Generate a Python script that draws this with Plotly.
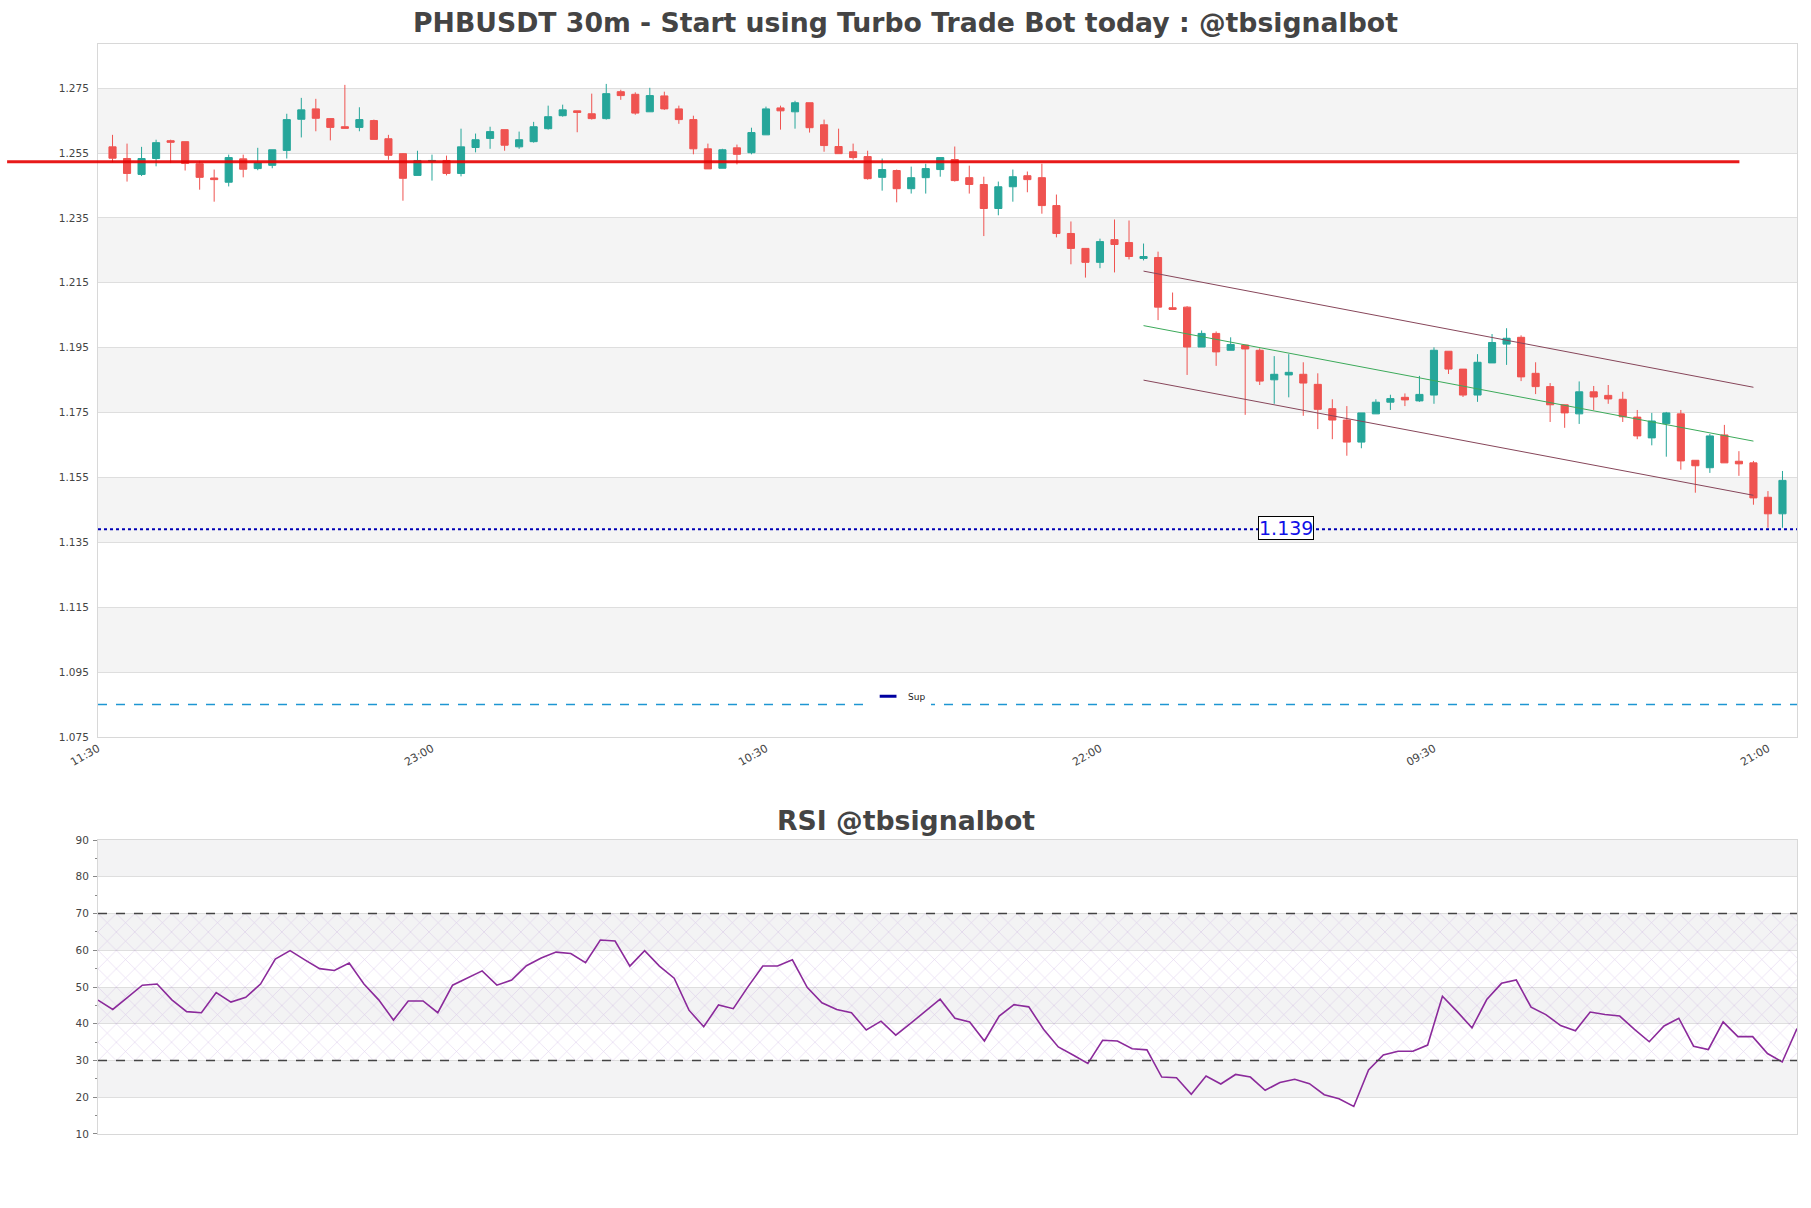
import pandas as pd
import plotly.graph_objects as go

# ---------------- data ----------------
TITLE = "PHBUSDT 30m - Start using Turbo Trade Bot today : @tbsignalbot"
RSI_TITLE = "RSI @tbsignalbot"
START = "2024-01-01 12:00"
AXIS_START = "2024-01-01 11:30"
AXIS_END = "2024-01-03 22:00"

opens = [1.2569, 1.2533, 1.2484, 1.2533, 1.2588, 1.2585, 1.2517, 1.2473, 1.2460, 1.2532,
         1.2502, 1.2512, 1.2558, 1.2654, 1.2686, 1.2656, 1.2631, 1.2629, 1.2650, 1.2594,
         1.2548, 1.2481, 1.2525, 1.2527, 1.2487, 1.2567, 1.2595, 1.2622, 1.2569, 1.2585,
         1.2625, 1.2665, 1.2680, 1.2671, 1.2656, 1.2739, 1.2731, 1.2677, 1.2726, 1.2686,
         1.2653, 1.2563, 1.2503, 1.2566, 1.2551, 1.2606, 1.2689, 1.2677, 1.2705, 1.2637,
         1.2570, 1.2554, 1.2539, 1.2475, 1.2496, 1.2440, 1.2474, 1.2499, 1.2530, 1.2474,
         1.2453, 1.2379, 1.2446, 1.2480, 1.2474, 1.2388, 1.2302, 1.2256, 1.2213, 1.2283,
         1.2274, 1.2225, 1.2228, 1.2073, 1.2075, 1.1952, 1.1994, 1.1942, 1.1958, 1.1942,
         1.1851, 1.1866, 1.1868, 1.1837, 1.1762, 1.1727, 1.1659, 1.1746, 1.1782, 1.1797,
         1.1786, 1.1804, 1.1939, 1.1884, 1.1804, 1.1903, 1.1961, 1.1982, 1.1871, 1.1830,
         1.1774, 1.1746, 1.1814, 1.1803, 1.1791, 1.1736, 1.1672, 1.1716, 1.1746, 1.1603,
         1.1580, 1.1681, 1.1600, 1.1595, 1.1489, 1.1438]
highs = [1.2606, 1.2579, 1.2569, 1.2591, 1.2591, 1.2585, 1.2526, 1.2499, 1.2545, 1.2545,
         1.2566, 1.2560, 1.2671, 1.2720, 1.2717, 1.2656, 1.2760, 1.2691, 1.2653, 1.2606,
         1.2550, 1.2557, 1.2545, 1.2542, 1.2625, 1.2610, 1.2631, 1.2622, 1.2616, 1.2646,
         1.2696, 1.2699, 1.2680, 1.2733, 1.2763, 1.2745, 1.2737, 1.2751, 1.2739, 1.2696,
         1.2665, 1.2579, 1.2563, 1.2576, 1.2628, 1.2693, 1.2696, 1.2711, 1.2705, 1.2653,
         1.2625, 1.2579, 1.2557, 1.2533, 1.2499, 1.2508, 1.2517, 1.2536, 1.2570, 1.2511,
         1.2477, 1.2462, 1.2499, 1.2493, 1.2517, 1.2422, 1.2339, 1.2256, 1.2286, 1.2345,
         1.2342, 1.2271, 1.2246, 1.2120, 1.2078, 1.2003, 1.2000, 1.1982, 1.1958, 1.1948,
         1.1924, 1.1930, 1.1905, 1.1871, 1.1791, 1.1770, 1.1749, 1.1791, 1.1805, 1.1809,
         1.1863, 1.1951, 1.1939, 1.1884, 1.1930, 1.1992, 1.2010, 1.1988, 1.1905, 1.1841,
         1.1774, 1.1846, 1.1832, 1.1835, 1.1814, 1.1758, 1.1749, 1.1752, 1.1758, 1.1603,
         1.1684, 1.1712, 1.1631, 1.1601, 1.1508, 1.1570]
lows = [1.2521, 1.2462, 1.2479, 1.2509, 1.2519, 1.2496, 1.2437, 1.2400, 1.2447, 1.2475,
        1.2497, 1.2503, 1.2533, 1.2598, 1.2617, 1.2589, 1.2626, 1.2617, 1.2592, 1.2529,
        1.2403, 1.2481, 1.2465, 1.2481, 1.2478, 1.2552, 1.2563, 1.2557, 1.2563, 1.2582,
        1.2622, 1.2662, 1.2614, 1.2653, 1.2653, 1.2714, 1.2668, 1.2677, 1.2683, 1.2640,
        1.2546, 1.2501, 1.2503, 1.2515, 1.2546, 1.2606, 1.2622, 1.2625, 1.2613, 1.2554,
        1.2548, 1.2530, 1.2468, 1.2434, 1.2398, 1.2425, 1.2425, 1.2477, 1.2462, 1.2425,
        1.2294, 1.2358, 1.2400, 1.2429, 1.2363, 1.2290, 1.2207, 1.2166, 1.2195, 1.2182,
        1.2222, 1.2219, 1.2035, 1.2068, 1.1866, 1.1952, 1.1894, 1.1942, 1.1743, 1.1835,
        1.1777, 1.1797, 1.1740, 1.1699, 1.1668, 1.1617, 1.1640, 1.1746, 1.1758, 1.1770,
        1.1783, 1.1777, 1.1869, 1.1798, 1.1783, 1.1903, 1.1897, 1.1847, 1.1807, 1.1721,
        1.1703, 1.1715, 1.1758, 1.1777, 1.1721, 1.1668, 1.1649, 1.1614, 1.1574, 1.1503,
        1.1564, 1.1595, 1.1555, 1.1466, 1.1395, 1.1395]
closes = [1.2534, 1.2487, 1.2533, 1.2582, 1.2583, 1.2518, 1.2475, 1.2468, 1.2536, 1.2500,
          1.2520, 1.2560, 1.2653, 1.2683, 1.2657, 1.2629, 1.2626, 1.2653, 1.2592, 1.2543,
          1.2472, 1.2527, 1.2527, 1.2487, 1.2569, 1.2591, 1.2616, 1.2574, 1.2591, 1.2631,
          1.2662, 1.2683, 1.2675, 1.2656, 1.2733, 1.2727, 1.2673, 1.2727, 1.2686, 1.2653,
          1.2563, 1.2501, 1.2560, 1.2546, 1.2613, 1.2686, 1.2680, 1.2705, 1.2628, 1.2573,
          1.2548, 1.2536, 1.2471, 1.2499, 1.2440, 1.2474, 1.2502, 1.2536, 1.2465, 1.2453,
          1.2379, 1.2446, 1.2477, 1.2468, 1.2388, 1.2302, 1.2256, 1.2213, 1.2277, 1.2268,
          1.2231, 1.2231, 1.2075, 1.2068, 1.1952, 1.1994, 1.1937, 1.1960, 1.1946, 1.1847,
          1.1868, 1.1874, 1.1841, 1.1760, 1.1727, 1.1659, 1.1749, 1.1782, 1.1793, 1.1789,
          1.1806, 1.1942, 1.1884, 1.1804, 1.1905, 1.1966, 1.1979, 1.1860, 1.1830, 1.1774,
          1.1749, 1.1814, 1.1798, 1.1792, 1.1737, 1.1678, 1.1724, 1.1749, 1.1601, 1.1586,
          1.1678, 1.1595, 1.1592, 1.1487, 1.1438, 1.1541]

rsi = [46.45, 43.9, 47.2, 50.5, 50.8, 46.5, 43.3, 43.0, 48.5, 45.9,
       47.2, 50.8, 57.6, 59.9, 57.4, 55.0, 54.5, 56.5, 50.8, 46.5,
       41.0, 46.2, 46.2, 43.0, 50.5, 52.4, 54.4, 50.5, 51.9, 55.8,
       57.9, 59.5, 59.1, 56.6, 62.8, 62.5, 55.7, 59.9, 55.7, 52.4,
       43.7, 39.2, 45.1, 44.1, 50.1, 55.7, 55.7, 57.4, 49.9, 45.7,
       43.9, 43.0, 38.3, 40.7, 36.9, 40.1, 43.3, 46.7, 41.5, 40.5,
       35.3, 42.1, 45.2, 44.6, 38.5, 33.7, 31.5, 29.2, 35.5, 35.3,
       33.2, 32.9, 25.5, 25.3, 20.8, 25.8, 23.6, 26.2, 25.5, 21.9,
       24.0, 24.9, 23.7, 20.7, 19.6, 17.5, 27.4, 31.5, 32.5, 32.5,
       34.2, 47.5, 43.3, 38.9, 46.6, 51.0, 51.9, 44.5, 42.5, 39.5,
       38.1, 43.2, 42.5, 42.1, 38.5, 35.1, 39.4, 41.5, 33.9, 33.0,
       40.5, 36.5, 36.5, 31.9, 29.6, 38.7]

x_tick_vals = ["2024-01-01 11:30", "2024-01-01 23:00", "2024-01-02 10:30",
               "2024-01-02 22:00", "2024-01-03 09:30", "2024-01-03 21:00"]
x_tick_text = ["11:30", "23:00", "10:30", "22:00", "09:30", "21:00"]

# channel (start candle index, end candle index, values)
channel_idx = [71, 113]
channel_upper = [1.2186, 1.1828]
channel_mid = [1.2018, 1.1662]
channel_lower = [1.1850, 1.1495]

resistance_level = 1.2523
support_label_level = 1.139
sup_level = 1.085

y_range = [1.075, 1.2886]
main_gray_bands = [(1.255, 1.275), (1.215, 1.235), (1.175, 1.195), (1.135, 1.155), (1.095, 1.115)]
rsi_gray_bands = [(80, 90), (60, 70), (40, 50), (20, 30)]
RSI_LOW, RSI_HIGH = 30, 70

# ---------------- figure ----------------
times = pd.date_range(START, periods=len(opens), freq="30min")
FONT = "DejaVu Sans"
GREEN, RED = "#26a69a", "#ef5350"

fig = go.Figure()

fig.add_trace(go.Candlestick(
    x=times, open=opens, high=highs, low=lows, close=closes,
    increasing=dict(line=dict(color=GREEN, width=1), fillcolor=GREEN),
    decreasing=dict(line=dict(color=RED, width=1), fillcolor=RED),
    whiskerwidth=0, showlegend=False, xaxis="x", yaxis="y"))

ch_x = [times[i] for i in channel_idx]
fig.add_trace(go.Scatter(x=ch_x, y=channel_upper, mode="lines",
                         line=dict(color="rgb(135,70,90)", width=1), showlegend=False))
fig.add_trace(go.Scatter(x=ch_x, y=channel_mid, mode="lines",
                         line=dict(color="rgb(60,170,90)", width=1), showlegend=False))
fig.add_trace(go.Scatter(x=ch_x, y=channel_lower, mode="lines",
                         line=dict(color="rgb(135,70,90)", width=1), showlegend=False))

# legend entry "Sup"
fig.add_trace(go.Scatter(x=[None], y=[None], mode="markers", name="Sup",
                         marker=dict(symbol="line-ew", size=12, color="#0000a0",
                                     line=dict(width=3, color="#0000a0")),
                         showlegend=True))

# RSI hatched zone
fig.add_trace(go.Scatter(x=[times[0], times[-1]], y=[RSI_LOW, RSI_LOW], mode="lines",
                         line=dict(width=0, color="rgba(0,0,0,0)"), showlegend=False,
                         xaxis="x2", yaxis="y2", hoverinfo="skip"))
fig.add_trace(go.Scatter(x=[times[0], times[-1]], y=[RSI_HIGH, RSI_HIGH], mode="lines",
                         line=dict(width=0, color="rgba(0,0,0,0)"), fill="tonexty",
                         fillcolor="rgba(0,0,0,0)",
                         fillpattern=dict(shape="x", fgcolor="rgba(170,125,210,0.75)",
                                          bgcolor="rgba(0,0,0,0)", size=13, solidity=0.08),
                         showlegend=False, xaxis="x2", yaxis="y2", hoverinfo="skip"))

fig.add_trace(go.Scatter(x=times, y=rsi, mode="lines",
                         line=dict(color="#8b2a9b", width=1.6), showlegend=False,
                         xaxis="x2", yaxis="y2"))

shapes = []
for lo, hi in main_gray_bands:
    shapes.append(dict(type="rect", xref="x domain", yref="y", x0=0, x1=1, y0=lo, y1=hi,
                       fillcolor="#f4f4f4", line=dict(width=0), layer="below"))
for lo, hi in rsi_gray_bands:
    shapes.append(dict(type="rect", xref="x2 domain", yref="y2", x0=0, x1=1, y0=lo, y1=hi,
                       fillcolor="#f3f3f4", line=dict(width=0), layer="below"))

shapes.append(dict(type="line", xref="paper", yref="y", x0=-0.0535, x1=0.9661,
                   y0=resistance_level, y1=resistance_level,
                   line=dict(color="rgba(230,0,0,0.9)", width=3)))
shapes.append(dict(type="line", xref="x domain", yref="y", x0=0, x1=1,
                   y0=support_label_level, y1=support_label_level,
                   line=dict(color="#0000b4", width=2, dash="dot")))
shapes.append(dict(type="line", xref="x domain", yref="y", x0=0, x1=1,
                   y0=sup_level, y1=sup_level,
                   line=dict(color="rgb(30,150,210)", width=1.5, dash="dash")))
for lvl in (RSI_LOW, RSI_HIGH):
    shapes.append(dict(type="line", xref="x2 domain", yref="y2", x0=0, x1=1, y0=lvl, y1=lvl,
                       line=dict(color="#444", width=1.3, dash="dash")))

annotations = [
    dict(text="<b>" + RSI_TITLE + "</b>", xref="paper", yref="paper", x=0.4753, y=0.288,
         xanchor="center", yanchor="middle", showarrow=False,
         font=dict(family=FONT, size=26.7, color="#444")),
    dict(text=f"{support_label_level:.3f}", xref="x domain", yref="y", x=0.699,
         y=support_label_level + 0.0003, xanchor="center", yanchor="middle", showarrow=False,
         font=dict(family=FONT, size=19, color="#1010e8"), bgcolor="white",
         bordercolor="black", borderwidth=1, borderpad=0),
]

axis_common = dict(showline=True, mirror=True, linecolor="#d8d8d8", linewidth=1)

fig.update_layout(
    width=1811, height=1208, autosize=False,
    margin=dict(l=98, r=14, t=44, b=74),
    paper_bgcolor="white", plot_bgcolor="white",
    title=dict(text="<b>" + TITLE + "</b>", x=0.5, xref="container", xanchor="center",
               y=1 - 23 / 1208, yref="container", yanchor="middle",
               font=dict(family=FONT, size=26.7, color="#444")),
    font=dict(family=FONT, size=10, color="#444"),
    xaxis=dict(domain=[0, 1], anchor="y", range=[AXIS_START, AXIS_END], type="date",
               tickvals=x_tick_vals, ticktext=x_tick_text, tickangle=-30,
               tickfont=dict(size=11, color="#444"), showgrid=False,
               rangeslider=dict(visible=False), ticks="", **axis_common),
    yaxis=dict(domain=[0.3642, 1], anchor="x", range=y_range, tick0=1.075, dtick=0.02,
               tickformat=".3f", showgrid=True, gridcolor="#dedede", gridwidth=1,
               tickfont=dict(size=10.5, color="#444"), zeroline=False, ticks="",
               ticklabelstandoff=6, **axis_common),
    xaxis2=dict(domain=[0, 1], anchor="y2", range=[times[0], times[-1]], type="date",
                showticklabels=False, showgrid=False, ticks="", **axis_common),
    yaxis2=dict(domain=[0, 0.2697], anchor="x2", range=[10, 90], tick0=10, dtick=10,
                showgrid=True, gridcolor="#dedede", zeroline=False,
                ticks="outside", ticklen=4, tickcolor="#888",
                minor=dict(dtick=5, ticks="outside", ticklen=2, tickcolor="#888", showgrid=False),
                tickfont=dict(size=10.5, color="#444"), ticklabelstandoff=2, **axis_common),
    shapes=shapes, annotations=annotations,
    showlegend=True,
    legend=dict(x=0.4718, xanchor="center", y=0.4016, yanchor="middle",
                bgcolor="white", borderwidth=0, font=dict(family=FONT, size=9, color="#222"),
                itemwidth=30, tracegroupgap=0),
    hovermode=False,
)

fig.write_html("out.html")
